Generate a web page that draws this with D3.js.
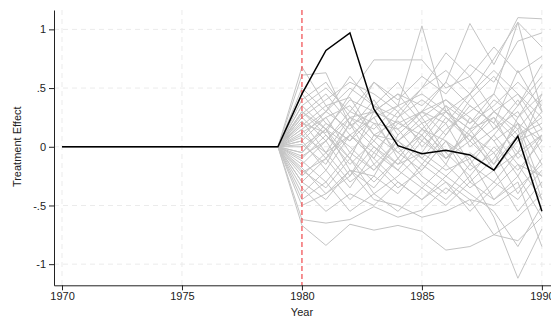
<!DOCTYPE html>
<html>
<head>
<meta charset="utf-8">
<script src="https://cdn.jsdelivr.net/npm/d3@7"></script>
<style>
  body { margin: 0; background: #fff; }
  svg { display: block; font-family: "Liberation Sans", Arial, sans-serif; }
</style>
</head>
<body>
<svg width="551" height="320"></svg>
<script>
// years and the treated unit's effect
const years = d3.range(1970, 1991);
const treated = [0, 0, 0, 0, 0, 0, 0, 0, 0, 0,
  0.45, 0.82, 0.97, 0.32, 0.01, -0.06, -0.03, -0.07, -0.20, 0.09, -0.55];

// placebo effects, 1980..1990 (zero before)
const placebos = [
  [0.68, 0.35, 0.42, 0.10, 0.22, 0.05, 0.30, 0.15, 0.40, 0.25, 0.55],
  [0.61, 0.63, 0.18, 0.30, 0.05, 0.20, -0.10, 0.12, 0.30, 0.10, 0.20],
  [0.20, 0.12, 0.45, 0.74, 0.74, 0.74, 0.50, 0.60, 0.30, 0.45, 0.15],
  [0.10, -0.05, 0.25, 0.15, 0.35, 1.03, 0.30, 0.05, 0.25, -0.10, 0.10],
  [0.30, 0.15, 0.40, 0.30, 0.45, 0.35, 0.55, 1.05, 0.70, 1.10, 1.09],
  [-0.05, 0.20, 0.05, 0.35, 0.25, 0.50, 0.65, 0.45, 0.75, 1.06, 0.85],
  [0.05, -0.20, 0.10, -0.05, 0.20, 0.10, 0.35, 0.20, 0.45, 1.06, 0.30],
  [-0.67, -0.84, -0.66, -0.71, -0.67, -0.72, -0.88, -0.85, -0.75, -0.80, -0.60],
  [-0.30, -0.45, -0.20, -0.35, -0.10, -0.30, -0.45, -0.25, -0.60, -1.12, -0.70],
  [-0.62, -0.65, -0.62, -0.51, -0.60, -0.54, -0.35, -0.50, -0.30, -0.45, -0.20],
  [0.35, 0.50, 0.30, 0.55, 0.40, 0.60, 0.45, 0.70, 0.55, 0.90, 0.97],
  [0.25, 0.40, 0.55, 0.45, 0.30, 0.50, 0.80, 0.60, 0.85, 0.63, 0.77],
  [-0.15, 0.05, -0.25, 0.10, -0.05, -0.20, 0.05, -0.30, -0.10, 0.20, -0.35],
  [0.15, -0.10, 0.20, -0.15, 0.05, 0.25, -0.05, 0.10, -0.20, 0.05, 0.30],
  [-0.40, -0.20, -0.45, -0.25, -0.40, -0.15, -0.30, -0.55, -0.35, -0.15, -0.45],
  [0.45, 0.20, 0.05, 0.25, -0.10, 0.15, 0.35, 0.00, 0.15, 0.40, 0.05],
  [-0.20, -0.35, -0.10, -0.40, -0.25, -0.05, -0.20, -0.10, -0.45, -0.30, -0.85],
  [0.08, 0.30, 0.15, 0.40, 0.10, 0.30, 0.10, 0.35, 0.20, -0.05, 0.45],
  [-0.10, 0.10, -0.15, 0.05, 0.30, 0.00, 0.20, -0.15, 0.10, 0.35, 0.60],
  [0.25, 0.05, 0.30, 0.20, -0.05, 0.10, -0.15, 0.25, 0.05, -0.25, 0.10],
  [-0.25, -0.05, -0.30, -0.15, -0.35, -0.20, 0.05, -0.20, -0.05, -0.40, -0.10],
  [0.12, 0.25, -0.05, 0.20, 0.15, -0.10, 0.15, 0.30, 0.45, 0.20, -0.15],
  [-0.35, -0.55, -0.40, -0.50, -0.30, -0.45, -0.25, -0.40, -0.55, -0.85, -0.50],
  [0.50, 0.30, 0.60, 0.35, 0.15, 0.30, 0.20, 0.45, 0.15, 0.30, -0.05],
  [0.02, -0.15, 0.20, 0.00, -0.20, 0.05, -0.10, 0.05, 0.30, 0.15, 0.40],
  [-0.05, 0.15, -0.10, -0.30, -0.10, 0.15, -0.05, -0.25, 0.00, -0.20, 0.05],
  [0.18, 0.35, 0.10, -0.10, 0.25, 0.40, 0.25, 0.05, -0.15, 0.10, 0.25],
  [-0.45, -0.30, -0.55, -0.40, -0.55, -0.35, -0.50, -0.30, -0.45, -0.25, -0.60],
  [0.30, 0.10, -0.10, 0.30, 0.20, 0.30, 0.40, 0.20, 0.35, 0.55, 0.35],
  [-0.12, -0.30, -0.05, -0.20, 0.00, -0.25, -0.40, -0.15, -0.30, -0.05, -0.25],
  [0.40, 0.55, 0.25, 0.30, 0.45, 0.20, 0.30, 0.15, 0.25, 0.05, 0.15],
  [-0.30, -0.10, -0.35, -0.05, -0.20, -0.35, -0.15, -0.35, -0.20, -0.55, -0.30],
  [0.05, 0.25, 0.35, 0.10, 0.05, -0.15, 0.10, 0.40, 0.60, 0.35, 0.70],
  [-0.50, -0.40, -0.20, -0.45, -0.50, -0.60, -0.55, -0.45, -0.75, -0.60, -0.40],
  [0.22, -0.05, 0.10, 0.25, 0.35, 0.15, 0.05, -0.10, 0.10, -0.15, -0.25],
  [-0.08, 0.05, 0.25, 0.05, -0.15, -0.05, 0.25, 0.10, -0.05, 0.15, -0.45],
  [0.35, 0.15, 0.00, -0.20, 0.05, -0.10, -0.25, -0.05, -0.20, -0.05, 0.10],
  [-0.18, -0.40, -0.25, 0.00, -0.15, 0.10, -0.10, 0.15, -0.15, 0.25, 0.45],
  [0.15, 0.30, 0.50, 0.35, 0.55, 0.25, 0.40, 0.25, 0.05, 0.20, 0.05],
  [-0.22, -0.10, 0.10, -0.10, -0.30, -0.45, -0.30, -0.45, -0.50, -0.35, -0.15],
  [0.00, 0.15, -0.20, -0.25, 0.10, 0.30, 0.55, 0.35, 0.20, 0.65, 0.30],
  [0.28, 0.45, 0.20, 0.55, 0.35, 0.45, 0.30, 0.45, 0.65, 0.45, 0.25]
];

const xTicks = [1970, 1975, 1980, 1985, 1990];
const yTicks = [-1, -0.5, 0, 0.5, 1];
const yTickLabels = ["-1", "-.5", "0", ".5", "1"];
const treatYear = 1980;

let svg = d3.select("svg");

// scales (domains padded so the axis lines match the plot region)
let x = d3.scaleLinear().domain([1969.666, 1990.38]).range([54, 551]);
let y = d3.scaleLinear().domain([-1.18, 1.165]).range([285.3, 10]);

// grid
svg.append("g").selectAll("line")
  .data(yTicks).enter().append("line")
  .attr("x1", 54).attr("x2", 551)
  .attr("y1", d => y(d)).attr("y2", d => y(d))
  .attr("stroke", "#ebebeb").attr("stroke-dasharray", "5,4");

svg.append("g").selectAll("line")
  .data(xTicks.filter(d => d !== treatYear)).enter().append("line")
  .attr("x1", d => x(d)).attr("x2", d => x(d))
  .attr("y1", 10).attr("y2", 285.3)
  .attr("stroke", "#ebebeb").attr("stroke-dasharray", "5,4");

let line = d3.line()
  .x((d, i) => x(years[i]))
  .y(d => y(d));

// placebo lines
let full = placebos.map(p => d3.range(10).map(() => 0).concat(p));
svg.append("g").selectAll("path")
  .data(full).enter().append("path")
  .attr("d", line)
  .attr("fill", "none")
  .attr("stroke", "#c4c4c4")
  .attr("stroke-width", 1);

// treatment year
svg.append("line")
  .attr("x1", x(treatYear)).attr("x2", x(treatYear))
  .attr("y1", 10).attr("y2", 285.3)
  .attr("stroke", "#f0484c")
  .attr("stroke-width", 1.2)
  .attr("stroke-dasharray", "5,3");

// treated unit
svg.append("path")
  .attr("d", line(treated))
  .attr("fill", "none")
  .attr("stroke", "#000")
  .attr("stroke-width", 1.5);

// axes
let xAxis = svg.append("g")
  .attr("transform", "translate(0,285.3)")
  .call(d3.axisBottom(x).tickValues(xTicks).tickFormat(d3.format("d")).tickSize(5).tickSizeOuter(0).tickPadding(2));

let yAxis = svg.append("g")
  .attr("transform", "translate(54,0)")
  .call(d3.axisLeft(y).tickValues(yTicks).tickFormat((d, i) => yTickLabels[i]).tickSize(5).tickSizeOuter(0).tickPadding(3));

[xAxis, yAxis].forEach(a => {
  a.selectAll("text").attr("font-size", 11).attr("fill", "#222").attr("font-family", "Liberation Sans, Arial, sans-serif");
  a.selectAll("line").attr("stroke", "#222");
  a.select(".domain").attr("stroke", "#222");
});

// axis titles
svg.append("text")
  .attr("x", x(1980)).attr("y", 316)
  .attr("text-anchor", "middle")
  .attr("font-size", 11).attr("fill", "#222")
  .text("Year");

svg.append("text")
  .attr("transform", "translate(21," + y(0) + ") rotate(-90)")
  .attr("text-anchor", "middle")
  .attr("font-size", 11).attr("fill", "#222")
  .text("Treatment Effect");
</script>
</body>
</html>
